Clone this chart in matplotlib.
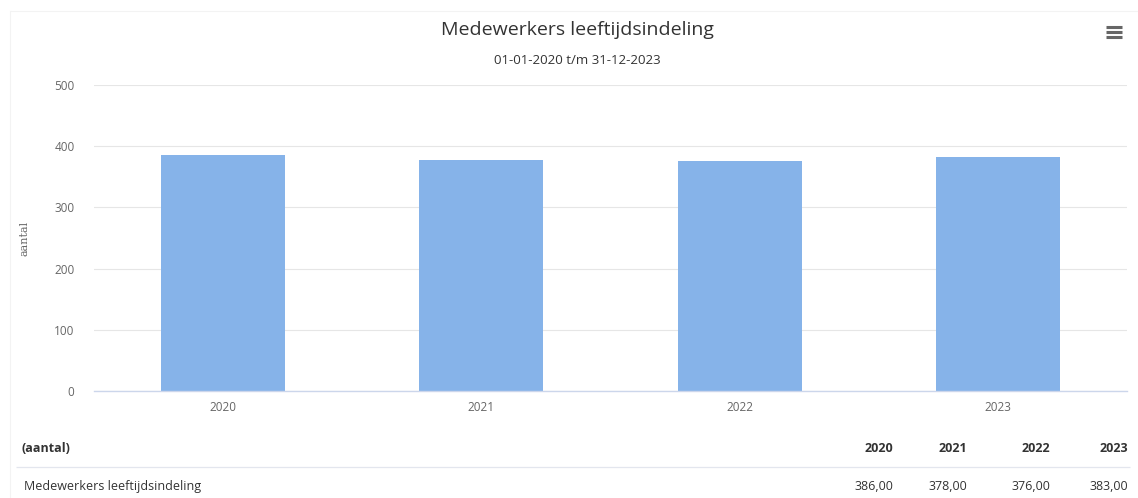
import matplotlib

matplotlib.use("Agg")
import matplotlib.pyplot as plt  # noqa: E402
from matplotlib.lines import Line2D  # noqa: E402

W, H = 1138, 498

years = ["2020", "2021", "2022", "2023"]
counts = [386, 378, 376, 383]
yticks = [0, 100, 200, 300, 400, 500]

title = "Medewerkers leeftijdsindeling"
subtitle = "01-01-2020 t/m 31-12-2023"
unit_label = "aantal"
row_label = "Medewerkers leeftijdsindeling"

BAR = "#86b3e9"
GRID = "#e6e6e6"
AXIS = "#ccd6eb"
TICK = "#666666"
INK = "#333333"

plt.rcParams["font.family"] = ["Open Sans", "DejaVu Sans"]


def fx(x):
    return x / W


def fy(y):
    return 1 - y / H


def hline(x0, x1, y, color, lw):
    fig.add_artist(Line2D([fx(x0), fx(x1)], [fy(y), fy(y)], transform=fig.transFigure,
                          color=color, lw=lw, solid_capstyle="butt"))


fig = plt.figure(figsize=(W / 100, H / 100), dpi=100)
fig.patch.set_facecolor("white")

# faint frame of the chart container (top and left edge)
hline(10, W, 11, "#f3f3f3", 0.8)
fig.add_artist(Line2D([fx(10), fx(10)], [fy(11), fy(H)], transform=fig.transFigure,
                      color="#f3f3f3", lw=0.8))

ax = fig.add_axes([fx(94), fy(391), fx(1127) - fx(94), fy(85) - fy(391)])
x = range(len(years))
ax.bar(x, counts, width=0.48, color=BAR, zorder=2)
ax.set_xlim(-0.5, len(years) - 0.5)
ax.set_ylim(0, 500)
ax.set_yticks(yticks)
ax.set_xticks(list(x))
ax.set_xticklabels(years)
ax.tick_params(axis="both", length=0, labelsize=8.5, colors=TICK)
ax.tick_params(axis="y", pad=14)
ax.tick_params(axis="x", pad=7)
ax.grid(True, axis="y", color=GRID, lw=0.8, zorder=0)
for s in ("top", "right", "left"):
    ax.spines[s].set_visible(False)
ax.spines["bottom"].set_color(AXIS)
ax.spines["bottom"].set_linewidth(1.0)
ax.set_ylabel(unit_label, fontsize=8, color=TICK, family="DejaVu Serif")
ax.yaxis.set_label_coords((30 - 94) / (1127 - 94), 0.5)

fig.text(fx(577), fy(30), title, ha="center", va="center", fontsize=14, color=INK)
fig.text(fx(577), fy(60), subtitle, ha="center", va="center", fontsize=9.5, color=INK)

# export menu icon
for yy in (27, 32, 37):
    hline(1106, 1122, yy, "#666666", 2.2)

# data table under the chart
col_x = [893, 967, 1050, 1128]
fig.text(fx(22), fy(448), f"({unit_label})", ha="left", va="center", fontsize=9,
         weight="bold", color=INK)
for cx, yr in zip(col_x, years):
    fig.text(fx(cx), fy(448), yr, ha="right", va="center", fontsize=9, weight="bold", color=INK)
hline(16, 1130, 467, "#e3e6ee", 0.9)
fig.text(fx(24), fy(486), row_label, ha="left", va="center", fontsize=9, color=INK)
for cx, v in zip(col_x, counts):
    fig.text(fx(cx), fy(486), f"{v:.2f}".replace(".", ","), ha="right", va="center",
             fontsize=9, color=INK)

fig.savefig("out.png", dpi=100)
